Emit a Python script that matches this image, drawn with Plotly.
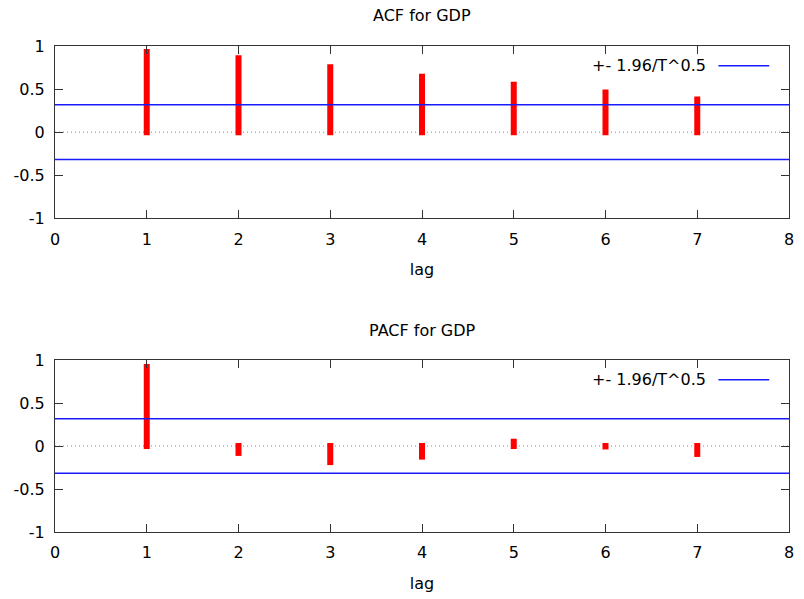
import plotly.graph_objects as go
from plotly.subplots import make_subplots

lags = [1, 2, 3, 4, 5, 6, 7]
acf_values = [0.93, 0.857, 0.752, 0.643, 0.55, 0.46, 0.38]
pacf_values = [0.92, -0.08, -0.187, -0.123, 0.05, -0.005, -0.092]
band = 0.318  # 1.96/T^0.5
titles = ["ACF for GDP", "PACF for GDP"]
legend_label = "+- 1.96/T^0.5"
x_ticks = [0, 1, 2, 3, 4, 5, 6, 7, 8]
y_ticks = [-1, -0.5, 0, 0.5, 1]
y_ticktext = ["-1", "-0.5", "0", "0.5", "1"]

FONT = "DejaVu Sans"
FS = 16
CAP = 0.035  # square line cap extension (style)

fig = make_subplots(rows=2, cols=1, vertical_spacing=0.0)

top_dom = [0.6454, 1.0]
bot_dom = [0.0, 0.3538]

for r, vals in enumerate([acf_values, pacf_values], start=1):
    xs, ys = [], []
    for lag, v in zip(lags, vals):
        s = 1 if v >= 0 else -1
        xs += [lag, lag, None]
        ys += [-s * CAP, v + s * CAP, None]
    fig.add_trace(go.Scatter(x=xs, y=ys, mode="lines",
                             line=dict(color="#ff0000", width=6),
                             showlegend=False, hoverinfo="skip"), row=r, col=1)
    for b in (band, -band):
        fig.add_trace(go.Scatter(x=[0, 8], y=[b, b], mode="lines",
                                 line=dict(color="#1a1aff", width=1.5),
                                 showlegend=False, hoverinfo="skip"), row=r, col=1)

axis_common = dict(showline=True, linecolor="#333333", linewidth=1, mirror="allticks",
                   ticks="inside", ticklen=8, tickcolor="#333333", tickwidth=1,
                   showgrid=False, zeroline=False,
                   tickfont=dict(family=FONT, size=FS, color="black"))

for r, dom in [(1, top_dom), (2, bot_dom)]:
    fig.update_xaxes(range=[0, 8], tickvals=x_ticks, ticklabelstandoff=6,
                     title=dict(text="lag", font=dict(family=FONT, size=FS, color="black"),
                                standoff=16),
                     row=r, col=1, **axis_common)
    fig.update_yaxes(range=[-1, 1], tickvals=y_ticks, ticktext=y_ticktext,
                     ticklabelstandoff=6, domain=dom, row=r, col=1, **axis_common)

shapes = []
annotations = []
for i, (xr, yr) in enumerate([("x", "y"), ("x2", "y2")]):
    shapes.append(dict(type="line", xref=xr + " domain", yref=yr, x0=0, x1=1, y0=0, y1=0,
                       line=dict(color="#888888", width=1, dash="1px,3px"), layer="below"))
    shapes.append(dict(type="line", xref=xr, yref=yr, x0=7.231, x1=7.784, y0=0.77, y1=0.77,
                       line=dict(color="#1a1aff", width=1.5)))
    annotations.append(dict(text=legend_label, xref=xr, yref=yr, x=7.112, y=0.77,
                            xanchor="right", yanchor="middle", showarrow=False,
                            font=dict(family=FONT, size=FS, color="black")))

annotations.append(dict(text=titles[0], xref="x domain", yref="paper", x=0.5, y=1.0637,
                        xanchor="center", yanchor="middle", showarrow=False,
                        font=dict(family=FONT, size=FS, color="black")))
annotations.append(dict(text=titles[1], xref="x2 domain", yref="paper", x=0.5, y=0.4148,
                        xanchor="center", yanchor="middle", showarrow=False,
                        font=dict(family=FONT, size=FS, color="black")))

fig.update_layout(width=804, height=599, margin=dict(l=55, r=10, t=46, b=66),
                  plot_bgcolor="white", paper_bgcolor="white",
                  shapes=shapes, annotations=annotations, showlegend=False,
                  font=dict(family=FONT, size=FS, color="black"))

fig.write_html("out.html", config={"displayModeBar": False},
               post_script="document.body.style.margin='0';document.body.style.overflow='hidden';")
